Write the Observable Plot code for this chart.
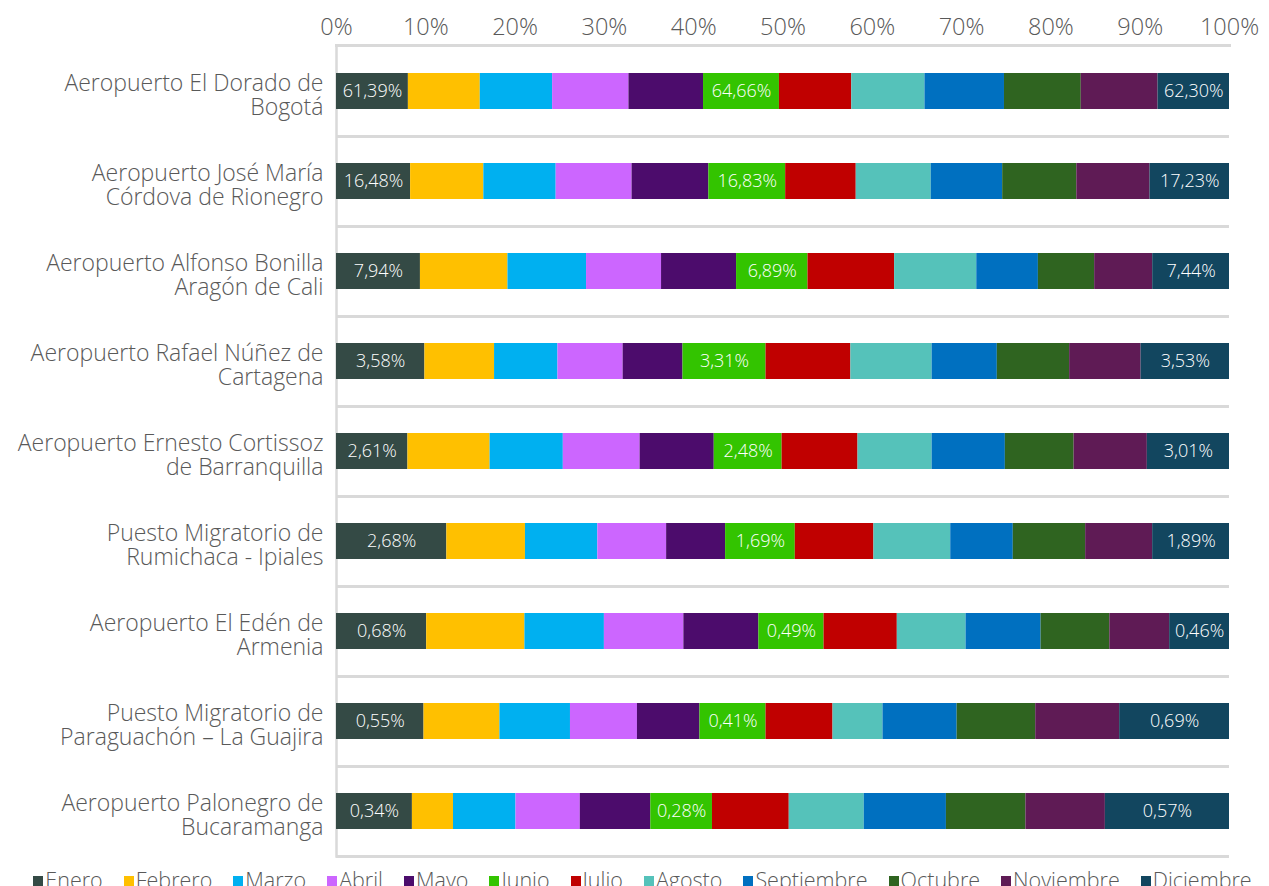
<!DOCTYPE html>
<html>
<head>
<meta charset="utf-8">
<script src="https://cdn.jsdelivr.net/npm/d3@7"></script>
<script src="https://cdn.jsdelivr.net/npm/@observablehq/plot@0.6"></script>
<style>
  html, body { margin: 0; padding: 0; background: #fff; overflow: hidden; }
  body { width: 1269px; height: 886px; font-family: "Open Sans", "Noto Sans", sans-serif; }
  #legend { display: flex; justify-content: center; gap: 21px; margin-top: 7px; font-size: 21.5px; color: #595959; font-weight: 300; white-space: nowrap; padding-left: 16px; }
  #legend .item { display: flex; align-items: center; gap: 2px; }
  #legend .sw { width: 10px; height: 14px; display: inline-block; margin-top: 6px; }
</style>
</head>
<body>
<div id="chart"></div>
<div id="legend"></div>
<script>
const airports = [
  "Aeropuerto El Dorado de\nBogotá",
  "Aeropuerto José María\nCórdova de Rionegro",
  "Aeropuerto Alfonso Bonilla\nAragón de Cali",
  "Aeropuerto Rafael Núñez de\nCartagena",
  "Aeropuerto Ernesto Cortissoz\nde Barranquilla",
  "Puesto Migratorio de\nRumichaca - Ipiales",
  "Aeropuerto El Edén de\nArmenia",
  "Puesto Migratorio de\nParaguachón – La Guajira",
  "Aeropuerto Palonegro de\nBucaramanga"
];
const months = ["Enero","Febrero","Marzo","Abril","Mayo","Junio","Julio","Agosto","Septiembre","Octubre","Noviembre","Diciembre"];
const monthColors = ["#344a45","#ffc000","#00b0f0","#cc66ff","#4c0c6c","#33c400","#c00000","#55c2ba","#0070c0","#2f6420","#5f1b55","#12465f"];

// share of each month within each airport (percent)
const bogota       = [8.05, 8.05, 8.1, 8.55, 8.35, 8.5, 8.1, 8.2, 8.9, 8.6, 8.6, 8.0];
const rionegro     = [8.3, 8.2, 8.1, 8.5, 8.6, 8.6, 7.9, 8.4, 8.0, 8.3, 8.2, 8.9];
const cali         = [9.4, 9.8, 8.8, 8.4, 8.4, 8.0, 9.7, 9.2, 6.9, 6.3, 6.5, 8.6];
const cartagena    = [9.9, 7.8, 7.1, 7.3, 6.7, 9.3, 9.5, 9.1, 7.3, 8.1, 8.0, 9.9];
const barranquilla = [8.0, 9.2, 8.2, 8.6, 8.3, 7.6, 8.5, 8.3, 8.2, 7.7, 8.2, 9.2];
const rumichaca    = [12.35, 8.8, 8.1, 7.7, 6.6, 7.8, 8.8, 8.6, 7.0, 8.1, 7.5, 8.6];
const armenia      = [10.1, 11.0, 8.9, 8.9, 8.4, 7.3, 8.2, 7.7, 8.4, 7.7, 6.7, 6.7];
const paraguachon  = [9.8, 8.5, 7.9, 7.5, 7.0, 7.4, 7.5, 5.6, 8.3, 8.8, 9.4, 12.3];
const bucaramanga  = [8.5, 4.6, 7.0, 7.2, 7.9, 6.9, 8.6, 8.4, 9.2, 8.9, 8.9, 13.9];
const series = [bogota, rionegro, cali, cartagena, barranquilla, rumichaca, armenia, paraguachon, bucaramanga];

// labels shown on the Enero, Junio and Diciembre segments
const eneroLabels     = ["61,39%","16,48%","7,94%","3,58%","2,61%","2,68%","0,68%","0,55%","0,34%"];
const junioLabels     = ["64,66%","16,83%","6,89%","3,31%","2,48%","1,69%","0,49%","0,41%","0,28%"];
const diciembreLabels = ["62,30%","17,23%","7,44%","3,53%","3,01%","1,89%","0,46%","0,69%","0,57%"];
const xTicks = [0, 0.1, 0.2, 0.3, 0.4, 0.5, 0.6, 0.7, 0.8, 0.9, 1];

const labelFor = (i, m) => m === "Enero" ? eneroLabels[i] : m === "Junio" ? junioLabels[i] : m === "Diciembre" ? diciembreLabels[i] : null;

const rows = [];
airports.forEach((a, i) => {
  months.forEach((m, j) => {
    rows.push({airport: a, month: m, value: series[i][j], label: labelFor(i, m)});
  });
});

const W = 1269, H = 858, mTop = 45, mBottom = 2, mLeft = 336, mRight = 40;
const step = (H - mTop - mBottom) / airports.length;
const font = '"Open Sans", "Noto Sans", sans-serif';

const chart = Plot.plot({
  width: W, height: H,
  marginTop: mTop, marginBottom: mBottom, marginLeft: mLeft, marginRight: mRight,
  style: {fontFamily: font, background: "#fff"},
  x: {domain: [0, 1], label: null},
  y: {domain: airports, paddingInner: 0.6, paddingOuter: 0.3, label: null},
  color: {domain: months, range: monthColors},
  marks: [
    Plot.ruleY(airports, {y: d => d, dy: step / 2, stroke: "#d9d9d9", strokeWidth: 3}),
    Plot.frame({anchor: "top", stroke: "#d9d9d9", strokeWidth: 3}),
    Plot.frame({anchor: "left", stroke: "#d9d9d9", strokeWidth: 2.5}),
    Plot.ruleX(xTicks, {x: d => d, y: () => airports[0], insetBottom: 33, dy: -13, stroke: "#bfbfbf", strokeWidth: 2}),
    Plot.barX(rows, Plot.stackX({x: "value", y: "airport", z: "month", fill: "month", order: months, offset: "normalize"})),
    Plot.text(rows, Plot.stackX({x: "value", y: "airport", z: "month", order: months, offset: "normalize", text: "label", fill: "white", fontSize: 18, fontWeight: 300})),
    Plot.axisX({anchor: "top", ticks: xTicks, tickFormat: d3.format(".0%"), tickSize: 0, tickPadding: 11, fontSize: 23.5, fill: "#595959", fontWeight: 300, label: null}),
    Plot.axisY({anchor: "left", tickSize: 0, tickPadding: 13, fontSize: 23, fill: "#595959", lineHeight: 1.02, dy: 4, fontWeight: 300, label: null})
  ]
});
document.getElementById("chart").appendChild(chart);

const legend = d3.select("#legend");
months.forEach((m, i) => {
  const it = legend.append("div").attr("class", "item");
  it.append("span").attr("class", "sw").style("background", monthColors[i]);
  it.append("span").text(m);
});
</script>
</body>
</html>
